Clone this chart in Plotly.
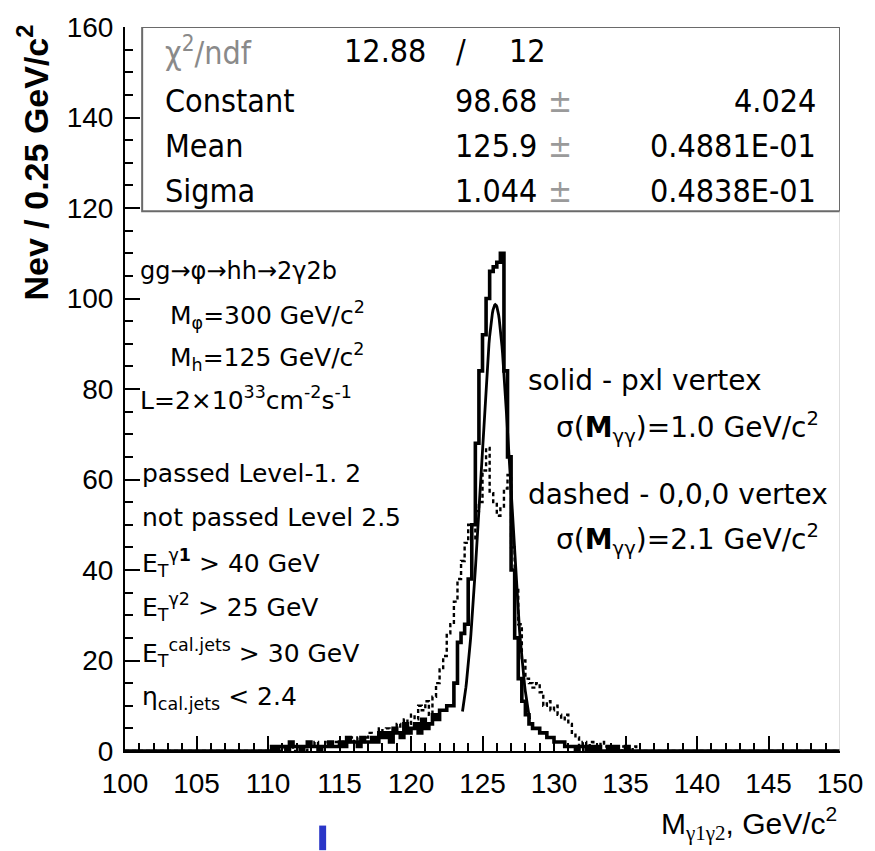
import numpy as np
import plotly.graph_objects as go

# Diphoton invariant mass, 0.25 GeV/c^2 bins
bin_width = 0.25
bin_start = 110.0   # first bin stored below; all other bins in 100-150 are empty

# pixel-vertex reconstruction (solid histogram), 110.0 ... 136.0
solid_counts = [
    0, 1, 0, 1, 1, 0, 2, 1,
    1, 0, 1, 2, 1, 1, 0, 1,
    1, 2, 1, 1, 2, 1, 3, 2,
    2, 1, 3, 2, 2, 3, 2, 4,
    3, 4, 2, 5, 4, 3, 6, 4,
    5, 6, 4, 7, 5, 6, 8, 7,
    9, 9, 10, 10, 15, 24, 26, 28,
    38, 50, 68, 84, 92, 100, 106, 107,
    108, 110, 84, 65, 40, 25, 16, 11,
    8, 6, 5, 5, 4, 4, 3, 3,
    2, 2, 2, 1, 1, 1, 0, 1,
    1, 0, 1, 0, 1, 0, 0, 1,
    0, 1, 0, 0, 1, 0, 0, 0,
]

# nominal (0,0,0) vertex reconstruction (dashed histogram), 110.0 ... 136.0
dashed_counts = [
    0, 0, 1, 0, 1, 0, 1, 0,
    1, 1, 0, 1, 1, 2, 1, 1,
    2, 1, 1, 2, 2, 1, 2, 3,
    2, 3, 2, 3, 4, 3, 3, 5,
    3, 5, 4, 5, 6, 5, 7, 6,
    8, 7, 10, 9, 11, 8, 12, 15,
    18, 21, 26, 28, 33, 38, 42, 46,
    50, 47, 53, 55, 62, 67, 57, 55,
    52, 54, 58, 61, 45, 36, 28, 20,
    16, 15, 14, 15, 13, 10, 11, 9,
    10, 8, 7, 8, 6, 4, 3, 1,
    2, 1, 2, 1, 1, 2, 1, 0,
    1, 1, 0, 1, 0, 0, 1, 0,
]

# Gaussian fit to the solid histogram
fit_constant = 98.68
fit_mean = 125.9
fit_sigma = 1.044
fit_range = (123.6, 128.3)

x_ticks = [100, 105, 110, 115, 120, 125, 130, 135, 140, 145, 150]
y_ticks = [0, 20, 40, 60, 80, 100, 120, 140, 160]


def full_histogram(counts):
    """Place the stored bins into the full 100-150 range and return step coordinates."""
    n_bins = int(round((150 - 100) / bin_width))
    values = np.zeros(n_bins)
    first = int(round((bin_start - 100) / bin_width))
    values[first:first + len(counts)] = counts
    edges = 100 + bin_width * np.arange(n_bins + 1)
    return edges, np.append(values, values[-1])


fig = go.Figure()

ex, ey = full_histogram(dashed_counts)
fig.add_trace(go.Scatter(x=ex, y=ey, mode="lines", line_shape="hv",
                         line=dict(color="black", width=2.4, dash="4px,3px"),
                         hoverinfo="skip"))

ex, ey = full_histogram(solid_counts)
fig.add_trace(go.Scatter(x=ex, y=ey, mode="lines", line_shape="hv",
                         line=dict(color="black", width=3.6),
                         hoverinfo="skip"))

fx = np.linspace(fit_range[0], fit_range[1], 120)
fy = fit_constant * np.exp(-0.5 * ((fx - fit_mean) / fit_sigma) ** 2)
fig.add_trace(go.Scatter(x=fx, y=fy, mode="lines",
                         line=dict(color="black", width=2.8), hoverinfo="skip"))

TICK_FONT = dict(family="Liberation Sans, Arial, sans-serif", size=28, color="black")

axis_common = dict(
    showgrid=False, zeroline=False, showline=True, linecolor="black", linewidth=2,
    ticks="inside", ticklen=15, tickwidth=2, tickcolor="black",
    tickfont=TICK_FONT,
)
fig.update_xaxes(range=[100, 150], tickvals=x_ticks, ticktext=[str(v) for v in x_ticks],
                 minor=dict(dtick=1, tick0=100, ticks="inside", ticklen=8,
                            tickwidth=1.5, tickcolor="black"),
                 ticklabelstandoff=6, **axis_common)
fig.update_yaxes(range=[0, 160], tickvals=y_ticks, ticktext=[str(v) for v in y_ticks],
                 minor=dict(dtick=5, tick0=0, ticks="inside", ticklen=8,
                            tickwidth=1.5, tickcolor="black"),
                 ticklabelstandoff=4, **axis_common)

shapes = [
    # statistics box
    dict(type="rect", xref="x", yref="y", x0=101.2, x1=150, y0=119.3, y1=160,
         line=dict(color="#6a6a6a", width=2), fillcolor="white", layer="below"),
    # right frame edge below the box
    dict(type="line", xref="x", yref="y", x0=150, x1=150, y0=0, y1=119.3,
         line=dict(color="#c8c8c8", width=1.2)),
    # blue marker under the axis
    dict(type="rect", xref="paper", yref="paper", x0=0.2716, x1=0.2813,
         y0=-0.137, y1=-0.103, line=dict(width=0), fillcolor="#2a36c8"),
]

SANS = "Liberation Sans, Arial, sans-serif"
WIDE = "DejaVu Sans, Liberation Sans, sans-serif"
NARROW = "DejaVu Sans Condensed, Liberation Sans Narrow, sans-serif"


def px_x(px):
    return (px - 125) / 718.0


def px_y(py):
    return (751 - py) / 729.0


annotations = []


def text(s, x, y, anchor="left", size=26, family=SANS, color="black", angle=0):
    annotations.append(dict(text=s, x=px_x(x), y=px_y(y), xref="paper", yref="paper",
                            xanchor=anchor, yanchor="middle", showarrow=False,
                            textangle=angle,
                            font=dict(family=family, size=size, color=color)))


# statistics box contents
text("χ<sup>2</sup>/ndf", 163, 46, size=32, family=NARROW, color="#8a8a8a")
text("12.88", 343, 46, size=32, family=NARROW)
text("/", 462, 46, anchor="center", size=32, family=NARROW)
text("12", 509, 46, size=32, family=NARROW)
stat_rows = [("Constant", "98.68", "4.024", 97),
             ("Mean", "125.9", "0.4881E-01", 142),
             ("Sigma", "1.044", "0.4838E-01", 187)]
for name, val, err, ypos in stat_rows:
    text(name, 163, ypos, size=32, family=NARROW)
    text(val, 541, ypos, anchor="right", size=32, family=NARROW)
    text("±", 548, ypos, size=32, family=NARROW, color="#9a9a9a")
    text(err, 821, ypos, anchor="right", size=32, family=NARROW)

# process description and selection cuts
text("gg→φ→hh→2γ2b", 138, 268, size=24, family=WIDE)
text("M<sub>φ</sub>=300 GeV/c<sup>2</sup>", 168, 312, size=25, family=WIDE)
text("M<sub>h</sub>=125 GeV/c<sup>2</sup>", 168, 354, size=25, family=WIDE)
text("L=2×10<sup>33</sup>cm<sup>-2</sup>s<sup>-1</sup>", 138, 396, size=25, family=WIDE)
text("passed Level-1. 2", 140, 472, size=25, family=WIDE)
text("not passed Level 2.5", 140, 516, size=25, family=WIDE)
text("E<sub>T</sub><sup>γ<b>1</b></sup> &gt; 40 GeV", 140, 562, size=25, family=WIDE)
text("E<sub>T</sub><sup>γ2</sup> &gt; 25 GeV", 140, 606, size=25, family=WIDE)
text("E<sub>T</sub><sup>cal.jets</sup> &gt; 30 GeV", 140, 652, size=25, family=WIDE)
text("η<sub>cal.jets</sub> &lt; 2.4", 140, 698, size=25, family=WIDE)

# resolution labels
text("solid - pxl vertex", 528, 378, size=28, family=WIDE)
text("σ(<b>M</b><sub>γγ</sub>)=1.0 GeV/c<sup>2</sup>", 556, 425, size=28, family=WIDE)
text("dashed - 0,0,0 vertex", 528, 493, size=28, family=WIDE)
text("σ(<b>M</b><sub>γγ</sub>)=2.1 GeV/c<sup>2</sup>", 556, 538, size=28, family=WIDE)

# axis titles
text("<b>Nev / 0.25 GeV/c<sup>2</sup></b>", 32, 158, anchor="center", size=34, angle=-90)
text('M<sub><span style="font-family:Liberation Serif">γ1γ2</span></sub>,'
     ' GeV/c<sup>2</sup>',
     842, 824, anchor="right", size=30)

fig.update_layout(
    width=875, height=851,
    margin=dict(l=125, r=32, t=22, b=100),
    plot_bgcolor="white", paper_bgcolor="white",
    showlegend=False,
    shapes=shapes,
    annotations=annotations,
)

fig.write_html("out.html")
